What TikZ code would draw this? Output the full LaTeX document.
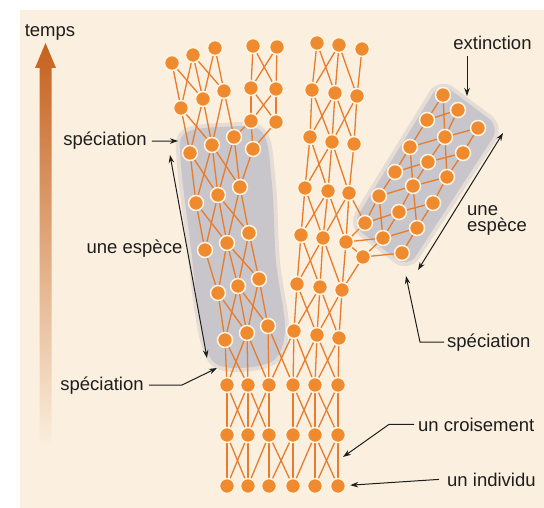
\documentclass[tikz,border=0pt]{standalone}
\usepackage{fontspec}
\setmainfont{Liberation Sans}
\usetikzlibrary{arrows.meta}

\definecolor{creme}{HTML}{FBF0DF}
\definecolor{orangeindiv}{HTML}{EF8B2E}
\definecolor{bordindiv}{HTML}{FFF4E2}
\definecolor{orangelien}{HTML}{E67C2C}
\definecolor{grisespece}{HTML}{C8C5CB}
\definecolor{orangetemps}{HTML}{C6611D}
\definecolor{encre}{HTML}{1E1E1E}

\pgfdeclarelayer{fond}
\pgfsetlayers{fond,main}

\tikzset{
  indiv/.style={circle, inner sep=0pt, minimum size=15pt, fill=orangeindiv, draw=bordindiv, line width=1.5pt},
  lien/.style={draw=orangelien, line width=1.3pt},
  espece/.style={fill=grisespece, draw=grisespece, draw opacity=0.45, line width=8pt},
  legende/.style={text=encre, font=\fontsize{18.5}{20}\selectfont, inner sep=0pt},
  renvoi/.style={draw=encre, line width=1pt, -{Stealth[length=8pt,width=5.5pt]}},
  doublefleche/.style={draw=encre, line width=1pt, {Stealth[length=8pt,width=5.5pt]}-{Stealth[length=8pt,width=5.5pt]}},
}

\begin{document}
\begin{tikzpicture}[x=1pt, y=-1pt]
  \useasboundingbox (0,0) rectangle (544,508);

  % le tronc commun
  \foreach \x [count=\i] in {227,248,269,293,315,338} {
    \node[indiv] (b1\i) at (\x,486) {};
    \node[indiv] (b2\i) at (\x,435) {};
    \node[indiv] (b3\i) at (\x,385) {};
  }

  % branche de gauche (espece en gris) et ses deux descendantes
  \foreach \n/\x/\y in {l11/225/340, l12/247/333, l13/268/326,
      l21/218/293, l22/238/286, l23/259/279,
      l31/205/250, l32/227/243, l33/249/233,
      l41/196/203, l42/218/195, l43/240/187,
      l51/190/153, l52/212/145, l53/234/137, l54/253/149,
      t21/181/108, t22/203/99, t23/224/91,
      t11/172/63, t12/193/55, t13/215/48,
      m31/251/121, m32/276/122, m21/251/88, m22/276/89, m11/253/46, m12/277/47}
    \node[indiv] (\n) at (\x,\y) {};

  % colonne du milieu
  \foreach \n/\x/\y in {c11/294/331, c12/317/335, c13/339/338,
      c21/297/284, c22/320/287, c23/342/290,
      c31/301/235, c32/323/238, c33/346/242,
      c41/305/188, c42/328/191, c43/349/193,
      c51/310/137, c52/332/142, c53/354/144,
      c61/312/90, c62/335/93, c63/357/96,
      c71/317/43, c72/339/45, c73/362/49, jx/363/257}
    \node[indiv] (\n) at (\x,\y) {};

  % branche de droite (espece eteinte)
  \foreach \n/\x/\y in {r11/365/223, r12/383/238, r13/402/253,
      r21/379/196, r22/399/212, r23/417/228,
      r31/395/172, r32/413/186, r33/433/203,
      r41/410/147, r42/428/162, r43/447/177,
      r51/427/120, r52/445/137, r53/463/153,
      r61/443/95, r62/458/110, r63/478/128}
    \node[indiv] (\n) at (\x,\y) {};

  \begin{pgfonlayer}{fond}
    \fill[creme] (20,10) rectangle (544,508);
    \filldraw[espece] plot[smooth cycle, tension=0.55] coordinates {(184,134) (222,127) (262,132) (272,185) (276,262) (285,328) (274,360) (238,368) (212,360) (200,320) (190,240) (181,165)};
    \filldraw[espece, rounded corners=14pt] (440,82) -- (500,127) -- (408,268) -- (352,225) -- cycle;

    \foreach \a/\b in {b11/b21, b12/b22, b13/b23, b14/b24, b15/b25, b16/b26,
        b11/b22, b12/b21, b13/b24, b14/b23, b15/b26, b16/b25, b12/b23, b14/b25,
        b21/b31, b22/b32, b23/b33, b24/b34, b25/b35, b26/b36,
        b21/b32, b22/b31, b22/b33, b23/b32, b24/b35, b25/b34, b25/b36, b26/b35,
        b31/l11, b32/l12, b33/l13, b31/l12, b32/l11, b33/l12, b34/l13,
        b33/c11, b34/c11, b35/c12, b36/c13, b34/c12, b35/c11, b36/c12, b35/c13,
        l11/l21, l12/l22, l13/l23, l11/l22, l12/l21, l13/l22, l12/l23,
        l21/l31, l22/l32, l23/l33, l21/l32, l22/l33, l23/l32,
        l31/l41, l32/l42, l33/l43, l31/l42, l32/l41, l33/l42, l32/l43,
        l41/l51, l42/l52, l43/l53, l41/l52, l42/l51, l42/l53, l43/l54, l43/l52,
        l51/t21, l52/t22, l53/t23, l51/t22, l52/t21, l52/t23, l53/m31, l54/m31, l54/m32,
        t21/t11, t22/t12, t23/t13, t21/t12, t22/t11, t22/t13, t23/t12,
        m31/m21, m32/m22, m31/m22, m32/m21, m21/m11, m22/m12, m21/m12, m22/m11,
        c11/c21, c12/c22, c13/c23, c11/c22, c12/c21, c12/c23, c13/c22,
        c21/c31, c22/c32, c23/c33, c21/c32, c22/c31, c23/c32,
        c31/c41, c32/c42, c33/c43, c31/c42, c32/c41, c32/c43, c33/c42,
        c41/c51, c42/c52, c43/c53, c41/c52, c42/c51, c43/c52,
        c51/c61, c52/c62, c53/c63, c51/c62, c52/c61, c52/c63, c53/c62,
        c61/c71, c62/c72, c63/c73, c61/c72, c62/c71, c63/c72,
        c23/jx, c33/jx, c33/r12, c33/r11, c43/r11, jx/r13, jx/r12,
        r11/r21, r12/r22, r13/r23, r11/r22, r12/r23, r12/r21,
        r21/r31, r22/r32, r23/r33, r21/r32, r22/r33, r23/r32,
        r31/r41, r32/r42, r33/r43, r31/r42, r32/r43, r32/r41,
        r41/r51, r42/r52, r43/r53, r41/r52, r42/r53, r43/r52,
        r51/r61, r52/r62, r53/r63, r51/r62, r52/r63, r52/r61}
      \draw[lien] (\a) -- (\b);
  \end{pgfonlayer}

  % la fleche du temps
  \shade[top color=orangetemps, middle color=orangetemps!45!creme, bottom color=creme]
    (39.5,450) -- (39.5,68) -- (35,68) -- (45.5,43) -- (56,68) -- (51.5,68) -- (51.5,450) -- cycle;
  \node[legende, anchor=base] (temps) at (50,37) {temps};

  % legendes a gauche
  \node[legende, anchor=base] (spe1) at (105,146) {spéciation};
  \coordinate (p1) at (178,141);
  \draw[renvoi] ([xshift=5pt]spe1.east) -- (p1);

  \node[legende, anchor=base] (esp1) at (134.5,254) {une espèce};
  \coordinate (de1) at (170,155);
  \coordinate (de2) at (207,358);
  \draw[doublefleche] (de1) -- (de2);

  \node[legende, anchor=base] (spe2) at (102,390) {spéciation};
  \coordinate (p2) at (217,368);
  \draw[renvoi] ([xshift=5pt]spe2.east) -- ++(33,0) -- (p2);

  % legendes a droite
  \node[legende, anchor=base] (ext) at (492.5,50) {extinction};
  \coordinate (p3) at (467,96);
  \draw[renvoi] (ext.south -| p3) ++(0,6) -- (p3);

  \node[legende, anchor=base west] (une) at (467,215) {une};
  \node[legende, anchor=base west] (esp2) at (467,232) {espèce};
  \coordinate (de3) at (503,133);
  \coordinate (de4) at (418,270);
  \draw[doublefleche] (de3) -- (de4);

  \node[legende, anchor=base west] (spe3) at (447,347) {spéciation};
  \coordinate (p4) at (406,276);
  \draw[renvoi] ([xshift=-3pt]spe3.west) -- ++(-24,0) -- (p4);

  \node[legende, anchor=base west] (cro) at (418,431) {un croisement};
  \coordinate (p5) at (343,457);
  \draw[renvoi] ([xshift=-4pt]cro.west) -- ++(-25,0) -- (p5);

  \node[legende, anchor=base west] (ind) at (447,486) {un individu};
  \draw[renvoi, shorten >=4pt] ([xshift=-8pt]ind.west) -- (b16);
\end{tikzpicture}
\end{document}
